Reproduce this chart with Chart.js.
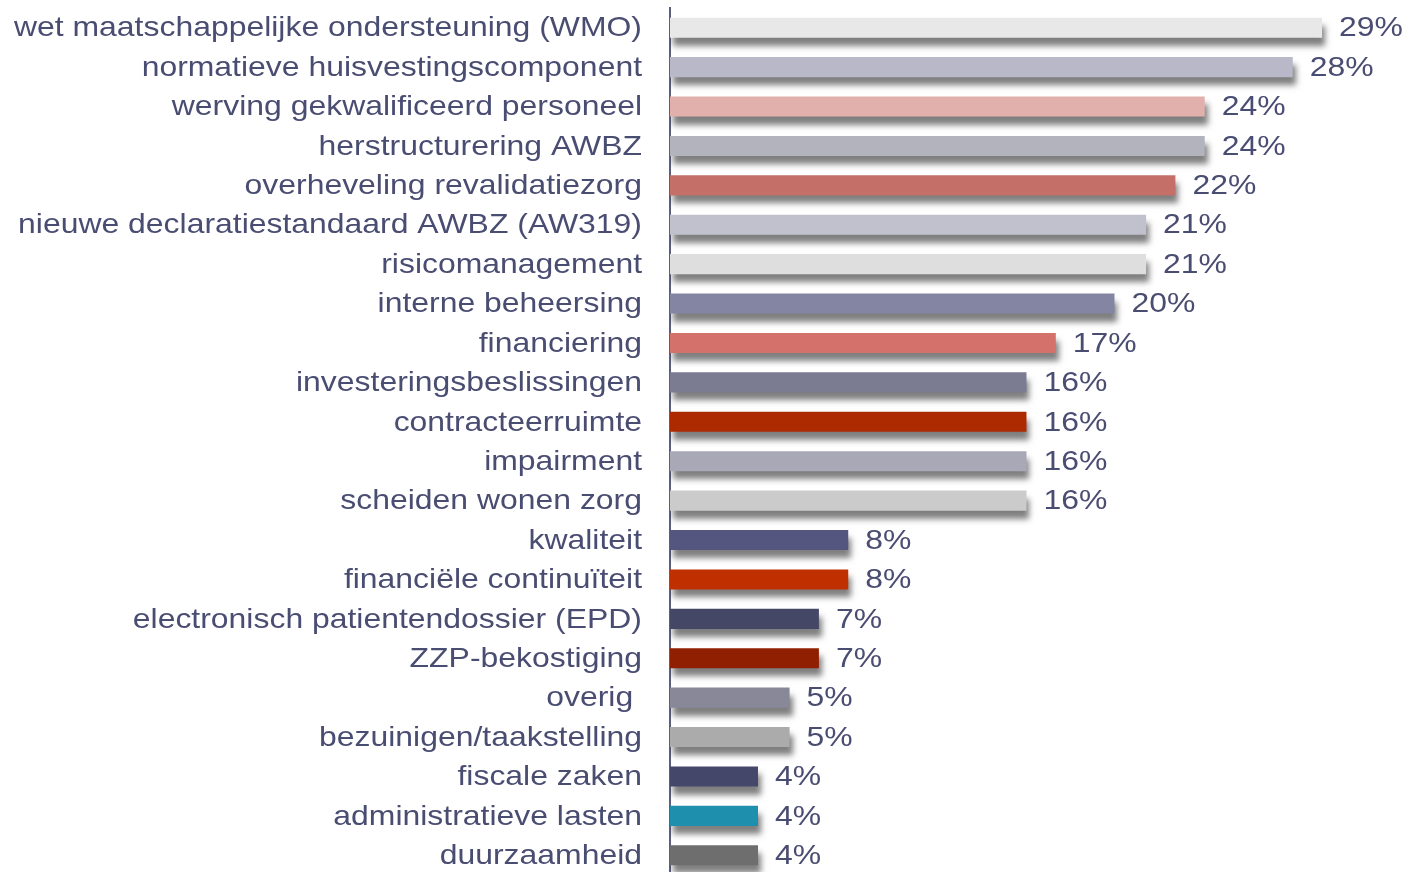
<!DOCTYPE html>
<html>
<head>
<meta charset="utf-8">
<script src="https://cdn.jsdelivr.net/npm/chart.js@4"></script>
<style>
  html, body { margin: 0; padding: 0; background: #fff; overflow: hidden; }
</style>
</head>
<body>
<canvas id="topicChart" width="1406" height="876"></canvas>
<script>
const categories = [
  'wet maatschappelijke ondersteuning (WMO)',
  'normatieve huisvestingscomponent',
  'werving gekwalificeerd personeel',
  'herstructurering AWBZ',
  'overheveling revalidatiezorg',
  'nieuwe declaratiestandaard AWBZ (AW319)',
  'risicomanagement',
  'interne beheersing',
  'financiering',
  'investeringsbeslissingen',
  'contracteerruimte',
  'impairment',
  'scheiden wonen zorg',
  'kwaliteit',
  'financiële continuïteit',
  'electronisch patientendossier (EPD)',
  'ZZP-bekostiging',
  'overig ',
  'bezuinigen/taakstelling',
  'fiscale zaken',
  'administratieve lasten',
  'duurzaamheid'
];

// percentages
const shares = [28.9, 27.6, 23.7, 23.7, 22.4, 21.1, 21.1, 19.7, 17.1, 15.8, 15.8, 15.8, 15.8,
                7.9, 7.9, 6.6, 6.6, 5.3, 5.3, 3.9, 3.9, 3.9];

// labels shown next to the bars
const valueLabels = ['29%', '28%', '24%', '24%', '22%', '21%', '21%', '20%', '17%', '16%', '16%', '16%', '16%',
                     '8%', '8%', '7%', '7%', '5%', '5%', '4%', '4%', '4%'];

const barColors = [
  '#e8e8e8', '#b8b8c8', '#e2b0ac', '#b3b3be', '#c46f68', '#c1c1cd', '#dedede', '#8385a3',
  '#d4716a', '#7b7c91', '#ad2a00', '#a8a8b6', '#cbcbcb', '#545680', '#c02f00', '#454766',
  '#8f1f00', '#888898', '#ababab', '#44466a', '#1f8fae', '#6e6e6e'
];

const textColor = '#4a4d72';
const fontFamily = '"Liberation Sans", Arial, sans-serif';
const stretch = 1.14; // the original text is a bit wider than plain Arial

// drop shadow under every bar
const barShadow = {
  id: 'barShadow',
  beforeDatasetsDraw(chart) {
    const ctx = chart.ctx;
    ctx.save();
    ctx.shadowColor = 'rgba(0,0,0,0.5)';
    ctx.shadowOffsetX = 3;
    ctx.shadowOffsetY = 8;
    ctx.shadowBlur = 6;
  },
  afterDatasetsDraw(chart) {
    chart.ctx.restore();
  }
};

// stretched category labels and percentages
const textLayer = {
  id: 'textLayer',
  afterDatasetsDraw(chart) {
    const ctx = chart.ctx;
    const yScale = chart.scales.y;
    const meta = chart.getDatasetMeta(0);
    ctx.save();
    ctx.font = '28px ' + fontFamily;
    ctx.fillStyle = textColor;
    ctx.textBaseline = 'middle';

    const right = chart.chartArea.left - 28;
    categories.forEach((label, i) => {
      const y = yScale.getPixelForTick(i) + 1;
      ctx.save();
      ctx.translate(right, y);
      ctx.scale(stretch, 1);
      ctx.textAlign = 'right';
      ctx.fillText(label, 0, 0);
      ctx.restore();
    });

    meta.data.forEach((bar, i) => {
      ctx.save();
      ctx.translate(bar.x + 17, bar.y + 1);
      ctx.scale(stretch, 1);
      ctx.textAlign = 'left';
      ctx.fillText(valueLabels[i], 0, 0);
      ctx.restore();
    });
    ctx.restore();
  }
};

new Chart(document.getElementById('topicChart'), {
  type: 'bar',
  data: {
    labels: categories,
    datasets: [{
      data: shares,
      backgroundColor: barColors,
      borderWidth: 0,
      barPercentage: 0.51,
      categoryPercentage: 1.0
    }]
  },
  options: {
    indexAxis: 'y',
    responsive: false,
    animation: false,
    layout: { padding: { top: 8, right: 14, bottom: 1, left: 0 } },
    plugins: {
      legend: { display: false },
      tooltip: { enabled: false }
    },
    scales: {
      x: {
        display: false,
        min: 0,
        max: 32
      },
      y: {
        afterFit(scale) {
          scale.width = 670;
          scale.paddingTop = 0;
          scale.paddingBottom = 0;
        },
        grid: { display: false, drawTicks: false },
        border: { display: true, color: '#5b5e7e', width: 2 },
        ticks: { display: false }
      }
    }
  },
  plugins: [barShadow, textLayer]
});
</script>
</body>
</html>
